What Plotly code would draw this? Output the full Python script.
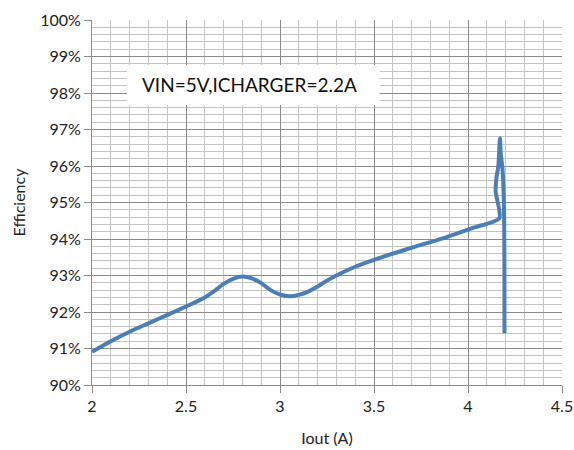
import plotly.graph_objects as go

# Efficiency curve (Iout in A, efficiency in %)
iout = [2.00, 2.10, 2.20, 2.30, 2.41, 2.50, 2.60, 2.65, 2.70, 2.75, 2.80, 2.85, 2.90, 2.95,
        3.00, 3.05, 3.10, 3.15, 3.20, 3.25, 3.30, 3.40, 3.50, 3.70, 3.89, 4.03, 4.167,
        4.147, 4.152, 4.161, 4.170,
        4.174, 4.184, 4.191, 4.193, 4.194, 4.194, 4.194]
eff = [90.91, 91.20, 91.46, 91.69, 91.94, 92.15, 92.40, 92.57, 92.77, 92.91, 92.97, 92.92, 92.79, 92.60,
       92.48, 92.43, 92.47, 92.56, 92.70, 92.86, 93.00, 93.24, 93.43, 93.76, 94.06, 94.31, 94.57,
       95.30, 95.71, 95.98, 96.76,
       96.35, 95.89, 94.98, 93.97, 93.00, 92.20, 91.42]

x_ticks = [2, 2.5, 3, 3.5, 4, 4.5]
annotation_text = "VIN=5V,ICHARGER=2.2A"

eff_frac = [v / 100 for v in eff]

fig = go.Figure()
fig.add_trace(go.Scatter(
    x=iout, y=eff_frac, mode="lines",
    line=dict(color="#4A7EBB", width=4, shape="spline", smoothing=0.6),
    showlegend=False, hoverinfo="skip",
))

major = "#8A8A8A"
minor = "#C4C4C4"
font = "Lato, 'Open Sans', sans-serif"

fig.update_layout(
    width=574, height=450,
    margin=dict(l=92, r=12, t=20, b=65, autoexpand=False),
    paper_bgcolor="white", plot_bgcolor="white",
    font=dict(family=font, size=16, color="#222222"),
    xaxis=dict(
        range=[2, 4.5], tickvals=x_ticks, ticktext=[str(t) for t in x_ticks],
        showgrid=True, gridcolor=major, gridwidth=1,
        minor=dict(dtick=0.1, showgrid=True, gridcolor=minor, gridwidth=1),
        showline=True, linecolor=major, linewidth=1,
        ticks="outside", ticklen=7, tickcolor=major,
        zeroline=False, automargin=False,
        title=dict(text="Iout (A)", font=dict(size=16), standoff=18),
        tickfont=dict(size=16),
    ),
    yaxis=dict(
        range=[0.90, 1.00], dtick=0.01, tickformat=".0%",
        showgrid=True, gridcolor=major, gridwidth=1,
        minor=dict(dtick=0.002, showgrid=True, gridcolor=minor, gridwidth=1),
        showline=True, linecolor=major, linewidth=1,
        ticks="outside", ticklen=7, tickcolor=major,
        zeroline=False, automargin=False,
        title=dict(text="Efficiency", font=dict(size=16), standoff=10),
        tickfont=dict(size=16),
    ),
    shapes=[dict(
        type="rect", xref="x", yref="y",
        x0=2.186, x1=3.53, y0=0.9767, y1=0.9877,
        fillcolor="white", line=dict(width=0), layer="above",
    )],
    annotations=[dict(
        x=2.84, y=0.9822, xref="x", yref="y",
        text=annotation_text, showarrow=False,
        font=dict(size=19, color="#111111", family=font),
    )],
)

fig.write_html(
    "out.html",
    config={"displayModeBar": False, "staticPlot": True},
    post_script="document.body.style.margin='0';document.body.style.overflow='hidden';",
)
